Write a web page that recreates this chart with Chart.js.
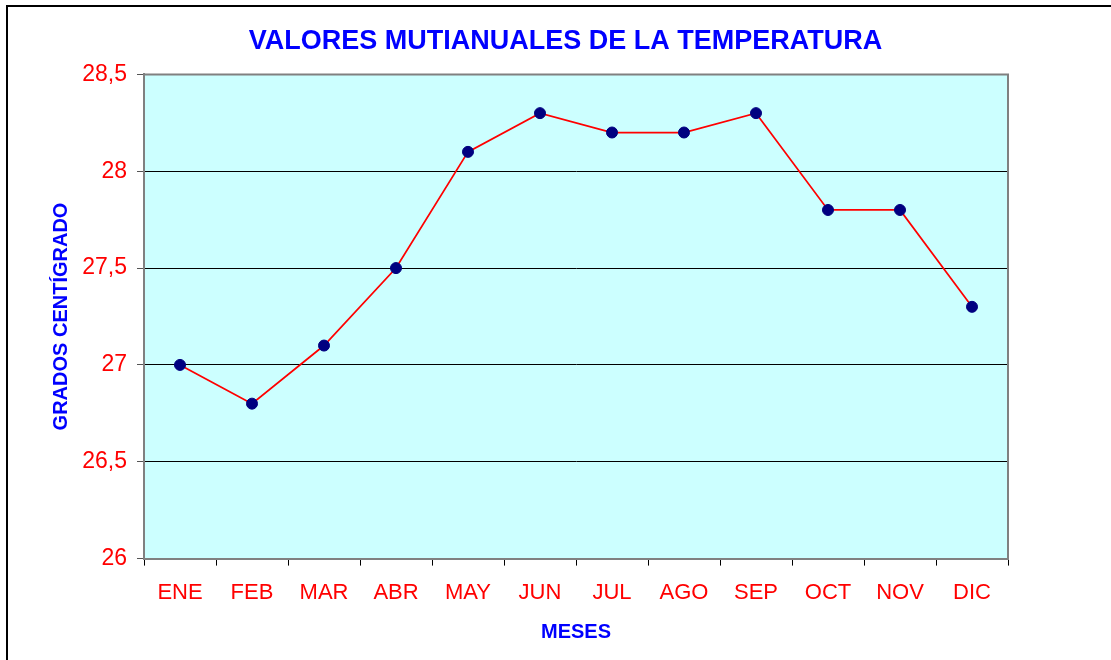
<!DOCTYPE html>
<html>
<head>
<meta charset="utf-8">
<script src="https://cdn.jsdelivr.net/npm/chart.js@4.4.1/dist/chart.umd.min.js"></script>
<style>
  body { margin: 0; background: #fff; }
  canvas { display: block; }
</style>
</head>
<body>
<canvas id="tempChart" width="1111" height="660"></canvas>
<script>
const meses = ['ENE', 'FEB', 'MAR', 'ABR', 'MAY', 'JUN', 'JUL', 'AGO', 'SEP', 'OCT', 'NOV', 'DIC'];
const temperatura = [27.0, 26.8, 27.1, 27.5, 28.1, 28.3, 28.2, 28.2, 28.3, 27.8, 27.8, 27.3];
const yTicks = [26, 26.5, 27, 27.5, 28, 28.5];

const fontFam = "Arial, 'Liberation Sans', sans-serif";

// white page, outer frame, cyan plot area
const frame = {
  id: 'frame',
  beforeDraw(chart) {
    const ctx = chart.ctx;
    const a = chart.chartArea;
    ctx.save();
    ctx.fillStyle = '#fff';
    ctx.fillRect(0, 0, chart.width, chart.height);
    ctx.strokeStyle = '#000';
    ctx.lineWidth = 2;
    ctx.strokeRect(7, 6, chart.width, chart.height);
    ctx.fillStyle = '#CCFFFF';
    ctx.fillRect(a.left, a.top, a.right - a.left, a.bottom - a.top);
    ctx.restore();
  },
  beforeDatasetsDraw(chart) {
    const ctx = chart.ctx;
    const a = chart.chartArea;
    ctx.save();
    ctx.strokeStyle = '#808080';
    ctx.lineWidth = 2;
    ctx.beginPath();
    ctx.moveTo(a.left, a.top);
    ctx.lineTo(a.right, a.top);
    ctx.lineTo(a.right, a.bottom);
    ctx.stroke();
    ctx.restore();
  }
};

new Chart(document.getElementById('tempChart'), {
  type: 'line',
  data: {
    labels: meses,
    datasets: [{
      data: temperatura,
      borderColor: '#FF0000',
      borderWidth: 1.75,
      pointRadius: 5.5,
      pointHoverRadius: 5.5,
      pointBackgroundColor: '#000080',
      pointBorderColor: '#000080',
      pointBorderWidth: 1,
      tension: 0
    }]
  },
  options: {
    responsive: false,
    animation: false,
    layout: { padding: { left: 20, right: 0, top: 0, bottom: 16 } },
    plugins: {
      legend: { display: false },
      tooltip: { enabled: false },
      title: {
        display: true,
        text: 'VALORES MUTIANUALES DE LA TEMPERATURA',
        color: '#0000FF',
        font: { family: fontFam, size: 27, weight: 'bold' },
        padding: { top: 25, bottom: 17 }
      }
    },
    scales: {
      x: {
        offset: true,
        grid: {
          offset: true,
          drawOnChartArea: false,
          color: '#000',
          tickLength: 7
        },
        border: { color: '#808080', width: 2 },
        ticks: {
          color: '#FF0000',
          padding: 14,
          font: { family: fontFam, size: 22 }
        },
        title: {
          display: true,
          text: 'MESES',
          color: '#0000FF',
          font: { family: fontFam, size: 20, weight: 'bold' },
          padding: { top: 0, bottom: 0 }
        }
      },
      y: {
        min: 26,
        max: 28.5,
        afterFit(s) { s.width = 124; },
        afterBuildTicks(s) { s.ticks = yTicks.map(v => ({ value: v })); },
        grid: {
          color: c => (c.tick && (c.tick.value === 26 || c.tick.value === 28.5)) ? '#808080' : '#000',
          tickColor: '#555',
          tickLength: 7
        },
        border: { color: '#808080', width: 2 },
        ticks: {
          color: '#FF0000',
          padding: 10,
          font: { family: fontFam, size: 23 },
          callback: v => String(v).replace('.', ',')
        },
        title: {
          display: true,
          text: 'GRADOS CENTÍGRADO',
          color: '#0000FF',
          font: { family: fontFam, size: 20, weight: 'bold' },
          padding: { top: 29, bottom: 0 }
        }
      },
      yR: {
        position: 'right',
        display: true,
        afterFit(s) { s.width = 103; },
        grid: { display: false },
        border: { display: false },
        ticks: { display: false }
      }
    }
  },
  plugins: [frame]
});
</script>
</body>
</html>
